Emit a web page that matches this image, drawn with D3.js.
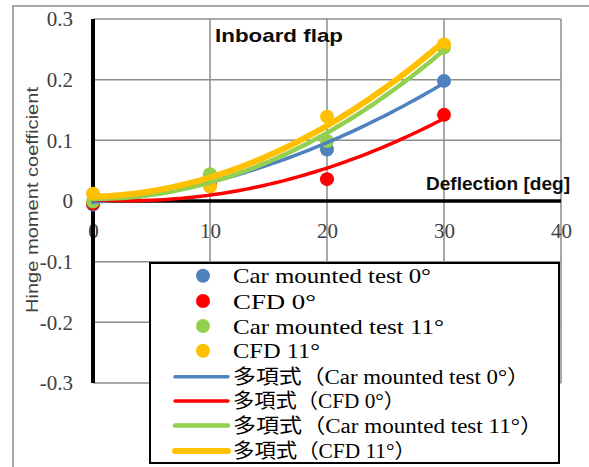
<!DOCTYPE html>
<html>
<head>
<meta charset="utf-8">
<script src="https://cdn.jsdelivr.net/npm/d3@7"></script>
<style>
  body { margin: 0; background: #fff; }
  svg { display: block; }
</style>
</head>
<body>
<svg id="chart" width="589" height="467"></svg>
<script>
// deflection angles [deg]
var deflection = [0, 10, 20, 30];
// hinge moment coefficient per series
var carTest0 = [-0.006, 0.042, 0.085, 0.198];
var cfd0 = [-0.004, 0.028, 0.036, 0.142];
var carTest11 = [-0.001, 0.044, 0.099, 0.253];
var cfd11 = [0.012, 0.024, 0.139, 0.258];

var seriesNames = ["Car mounted test 0°", "CFD 0°", "Car mounted test 11°", "CFD 11°"];
var trendNames = ["多項式（Car mounted test 0°）", "多項式（CFD 0°）", "多項式（Car mounted test 11°）", "多項式（CFD 11°）"];
var xTicks = [0, 10, 20, 30, 40];
var yTicks = [-0.3, -0.2, -0.1, 0, 0.1, 0.2, 0.3];

var colors = ["#4f81bd", "#ff0000", "#92d050", "#ffc000"];
var lineWidths = [3.5, 3.5, 4.5, 6];
var series = [carTest0, cfd0, carTest11, cfd11];

var serif = "'Liberation Serif', 'Times New Roman', serif";
var sans = "'Liberation Sans', Arial, sans-serif";

var svg = d3.select("#chart");
var x = d3.scaleLinear().domain([0, 40]).range([93, 561]);
var y = d3.scaleLinear().domain([-0.3, 0.3]).range([383, 19]);

// outer chart frame (cut off at right and bottom)
svg.append("path")
  .attr("d", "M13,470 L13,6 L600,6")
  .attr("fill", "none").attr("stroke", "#8c8c8c").attr("stroke-width", 1.5);

// gridlines
svg.append("g").selectAll("line")
  .data(yTicks.filter(function(d){ return d !== 0; }))
  .enter().append("line")
  .attr("x1", x(0)).attr("x2", x(40))
  .attr("y1", function(d){ return y(d); }).attr("y2", function(d){ return y(d); })
  .attr("stroke", "#8c8c8c").attr("stroke-width", 1.5);
svg.append("g").selectAll("line")
  .data(xTicks.filter(function(d){ return d !== 0; }))
  .enter().append("line")
  .attr("x1", function(d){ return x(d); }).attr("x2", function(d){ return x(d); })
  .attr("y1", y(0.3)).attr("y2", y(-0.3))
  .attr("stroke", "#8c8c8c").attr("stroke-width", 1.5);

// y tick labels
var yAxis = svg.append("g")
  .attr("transform", "translate(" + x(0) + ",0)")
  .call(d3.axisLeft(y).tickValues(yTicks).tickSize(0).tickPadding(20)
    .tickFormat(function(d){ return d === 0 ? "0" : (d < 0 ? "-" : "") + Math.abs(d).toFixed(1); }));
yAxis.attr("font-family", serif);
yAxis.select(".domain").remove();
yAxis.selectAll("text")
  .attr("font-family", serif).attr("font-size", 21).attr("fill", "#404040");

// x tick labels
var xAxis = svg.append("g")
  .attr("transform", "translate(0," + y(0) + ")")
  .call(d3.axisBottom(x).tickValues(xTicks).tickSize(0).tickPadding(22));
xAxis.attr("font-family", serif);
xAxis.select(".domain").remove();
xAxis.selectAll("text")
  .attr("font-family", serif).attr("font-size", 21).attr("fill", "#404040");

// black axes
svg.append("line")
  .attr("x1", x(0)).attr("x2", x(0)).attr("y1", y(0.3)).attr("y2", y(-0.3))
  .attr("stroke", "#000").attr("stroke-width", 4);
svg.append("line")
  .attr("x1", x(0)).attr("x2", x(40)).attr("y1", y(0)).attr("y2", y(0))
  .attr("stroke", "#000").attr("stroke-width", 3.5);

// markers
series.forEach(function(s, i){
  svg.append("g").selectAll("circle")
    .data(s)
    .enter().append("circle")
    .attr("cx", function(d, j){ return x(deflection[j]); })
    .attr("cy", function(d){ return y(d); })
    .attr("r", 7)
    .attr("fill", colors[i]);
});

// second order polynomial trendline (least squares)
function polyFit(xs, ys) {
  var s = [0, 0, 0, 0, 0], t = [0, 0, 0];
  xs.forEach(function(xv, k){
    for (var p = 0; p < 5; p++) s[p] += Math.pow(xv, p);
    for (var q = 0; q < 3; q++) t[q] += ys[k] * Math.pow(xv, q);
  });
  var m = [[s[0], s[1], s[2], t[0]], [s[1], s[2], s[3], t[1]], [s[2], s[3], s[4], t[2]]];
  for (var c = 0; c < 3; c++) {
    for (var r = c + 1; r < 3; r++) {
      var f = m[r][c] / m[c][c];
      for (var k = c; k < 4; k++) m[r][k] -= f * m[c][k];
    }
  }
  var a = [0, 0, 0];
  for (var r2 = 2; r2 >= 0; r2--) {
    var v = m[r2][3];
    for (var k2 = r2 + 1; k2 < 3; k2++) v -= m[r2][k2] * a[k2];
    a[r2] = v / m[r2][r2];
  }
  return function(xv){ return a[0] + a[1] * xv + a[2] * xv * xv; };
}

var line = d3.line()
  .x(function(d){ return x(d[0]); })
  .y(function(d){ return y(d[1]); });

series.forEach(function(s, i){
  var fit = polyFit(deflection, s);
  var pts = d3.range(0, 30.01, 0.5).map(function(v){ return [v, fit(v)]; });
  svg.append("path")
    .datum(pts)
    .attr("d", line)
    .attr("fill", "none")
    .attr("stroke", colors[i])
    .attr("stroke-width", lineWidths[i])
    .attr("stroke-linecap", "round");
});

// titles
svg.append("text")
  .attr("x", 215).attr("y", 42)
  .attr("font-family", sans).attr("font-weight", "bold")
  .attr("font-size", 19).attr("textLength", 128).attr("lengthAdjust", "spacingAndGlyphs")
  .attr("fill", "#0d0d0d")
  .text("Inboard flap");
svg.append("text")
  .attr("x", 426).attr("y", 190)
  .attr("font-family", sans).attr("font-weight", "bold")
  .attr("font-size", 18).attr("textLength", 144).attr("lengthAdjust", "spacingAndGlyphs")
  .attr("fill", "#0d0d0d")
  .text("Deflection [deg]");
svg.append("text")
  .attr("transform", "translate(38,200) rotate(-90)")
  .attr("text-anchor", "middle")
  .attr("font-family", sans)
  .attr("font-size", 17).attr("textLength", 226).attr("lengthAdjust", "spacingAndGlyphs")
  .attr("fill", "#404040")
  .text("Hinge moment coefficient");

// legend
var legend = svg.append("g");
legend.append("rect")
  .attr("x", 150).attr("y", 263).attr("width", 409).attr("height", 200)
  .attr("fill", "#fff").attr("stroke", "#000").attr("stroke-width", 2);

var markerRows = [275.7, 301, 326, 350.7];
var markerTextLen = [198, 83, 211, 87];
seriesNames.forEach(function(name, i){
  legend.append("circle")
    .attr("cx", 203).attr("cy", markerRows[i]).attr("r", 7).attr("fill", colors[i]);
  legend.append("text")
    .attr("x", 233).attr("y", markerRows[i] + 7.5)
    .attr("font-family", serif).attr("font-size", 21)
    .attr("textLength", markerTextLen[i]).attr("lengthAdjust", "spacingAndGlyphs")
    .attr("fill", "#000")
    .text(name);
});

var lineRows = [376.7, 401, 425.5, 451];
var lineTextLen = [297, 172, 310, 183];
trendNames.forEach(function(name, i){
  legend.append("line")
    .attr("x1", 175).attr("x2", 228).attr("y1", lineRows[i]).attr("y2", lineRows[i])
    .attr("stroke", colors[i]).attr("stroke-width", lineWidths[i]).attr("stroke-linecap", "round");
  legend.append("text")
    .attr("x", 233).attr("y", lineRows[i] + 7)
    .attr("font-family", "'Liberation Serif', 'Noto Sans CJK JP', serif").attr("font-size", 20)
    .attr("textLength", lineTextLen[i]).attr("lengthAdjust", "spacingAndGlyphs")
    .attr("fill", "#000")
    .text(name);
});
</script>
</body>
</html>
